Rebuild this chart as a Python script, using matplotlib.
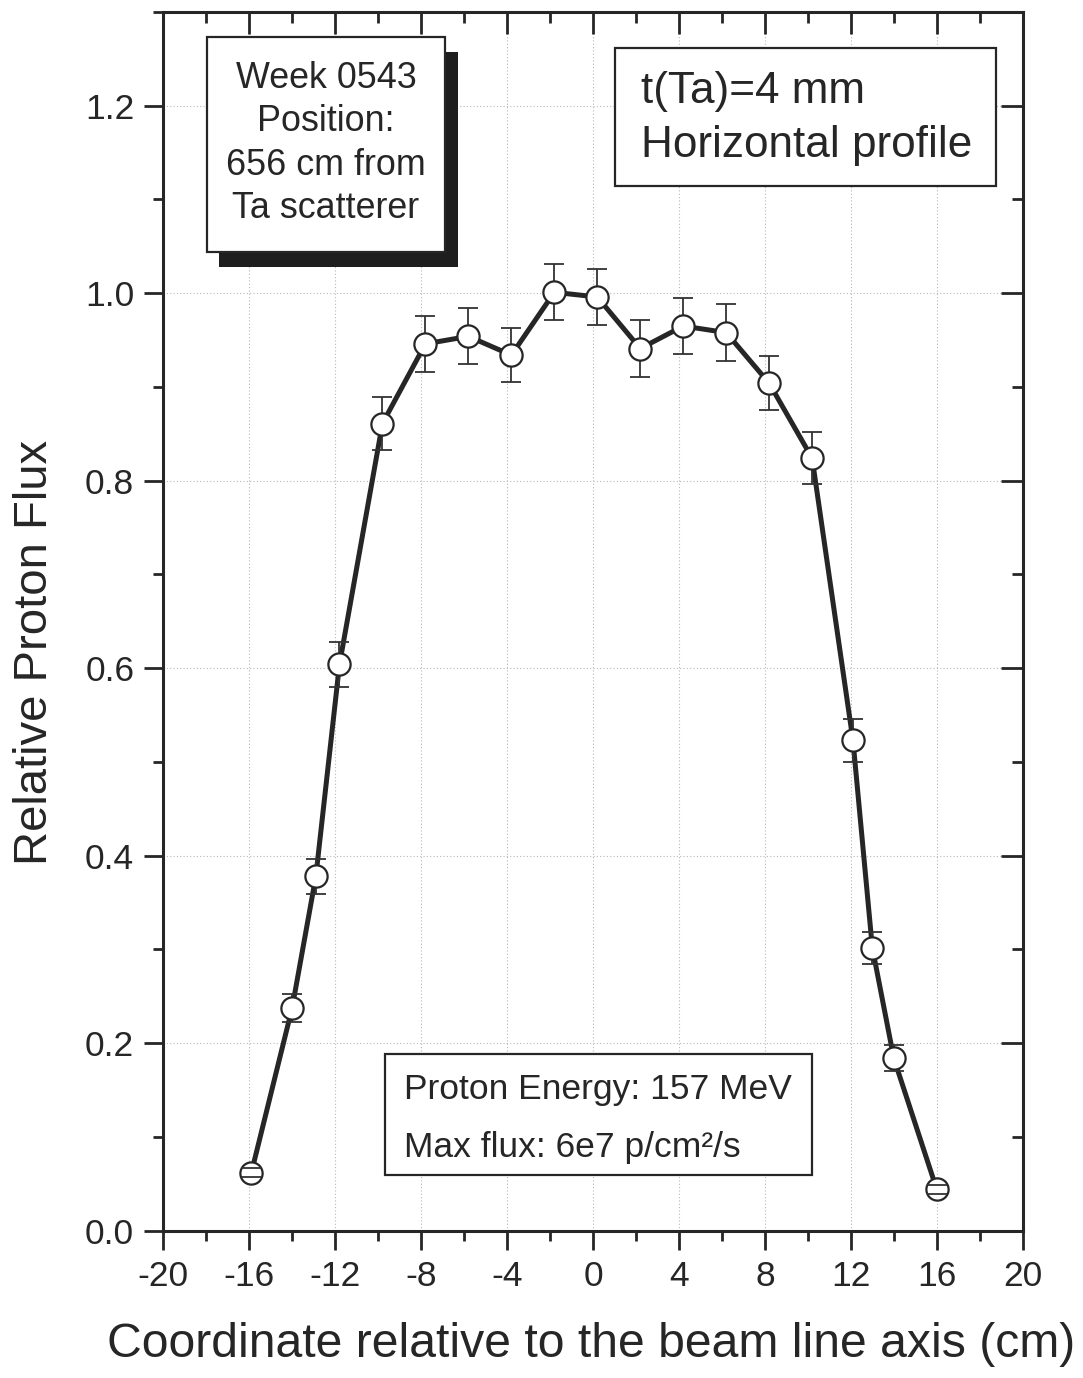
import numpy as np
import matplotlib
matplotlib.use("Agg")
import matplotlib.pyplot as plt
from matplotlib.patches import Rectangle
from matplotlib.ticker import MultipleLocator

plt.rcParams['font.family'] = ['Liberation Sans', 'DejaVu Sans']
plt.rcParams['axes.unicode_minus'] = False

# horizontal beam profile, week 0543
coord = [-15.9, -14.0, -12.9, -11.8, -9.8, -7.8, -5.8, -3.8, -1.8, 0.2,
         2.2, 4.2, 6.2, 8.2, 10.2, 12.1, 13.0, 14.0, 16.0]
flux = [0.062, 0.238, 0.378, 0.604, 0.861, 0.946, 0.954, 0.934, 1.001, 0.996,
        0.941, 0.965, 0.958, 0.904, 0.824, 0.523, 0.302, 0.184, 0.044]
flux_err = [0.005, 0.015, 0.019, 0.024, 0.028, 0.030, 0.030, 0.029, 0.030, 0.030,
            0.030, 0.030, 0.030, 0.029, 0.028, 0.023, 0.017, 0.014, 0.005]

W, H = 1083, 1378
ink = '#262626'
rect = [163.3 / W, 1 - 1230.7 / H, (1022.7 - 163.3) / W, (1230.7 - 12) / H]

fig = plt.figure(figsize=(W / 100, H / 100), dpi=100)
ax = fig.add_axes(rect)

ax.plot(coord, flux, color=ink, lw=3.6, zorder=2)
eb = ax.errorbar(coord, flux, yerr=flux_err, fmt='none', ecolor='#333333',
                 elinewidth=1.3, capsize=7, capthick=1.3, zorder=2)
ax.plot(coord, flux, 'o', ms=16, mfc='white', mec=ink, mew=1.6, zorder=3)
for cap in eb[1]:
    cap.set_zorder(4)

yt = np.arange(0, 1.21, 0.2)
# second, frameless axes on top carries the inward ticks of the top and right spines
ax2 = fig.add_axes(rect, frameon=False)
for a in (ax, ax2):
    a.set_xlim(-20, 20)
    a.set_ylim(0, 1.3)
    a.xaxis.set_major_locator(MultipleLocator(4))
    a.xaxis.set_minor_locator(MultipleLocator(2))
    a.yaxis.set_minor_locator(MultipleLocator(0.1))
    a.set_yticks(yt)
    a.set_yticklabels([f'{v:.1f}' for v in yt])

ax.grid(True, which='major', color='#b8b8b8', lw=0.8, linestyle=(0, (1, 2)))
ax.set_axisbelow(True)

for s in ax.spines.values():
    s.set_linewidth(2.2)
    s.set_color(ink)

ax.tick_params(which='both', direction='out', color=ink, width=2.0,
               top=False, right=False, labelsize=25.5, labelcolor=ink)
ax.tick_params(which='major', length=14)
ax.tick_params(which='minor', length=7)
ax.tick_params(axis='x', pad=7)
ax.tick_params(axis='y', pad=7)

ax2.tick_params(which='both', direction='in', color=ink, width=2.0,
                bottom=False, left=False, top=True, right=True,
                labelbottom=False, labelleft=False, labeltop=False, labelright=False)
ax2.tick_params(which='major', length=16)
ax2.tick_params(which='minor', length=8)

fig.text(591 / W, 1 - 1357 / H, 'Coordinate relative to the beam line axis (cm)',
         ha='center', va='baseline', fontsize=34.7, color=ink)
fig.text(47 / W, 1 - 652 / H, 'Relative Proton Flux', rotation=90,
         rotation_mode='anchor', ha='center', va='baseline', fontsize=34, color=ink)


def px_rect(x0, y0, x1, y1, **kw):
    r = Rectangle((x0 / W, 1 - y1 / H), (x1 - x0) / W, (y1 - y0) / H,
                  transform=fig.transFigure, **kw)
    fig.add_artist(r)


# run info box with drop shadow
px_rect(219, 51.7, 458.3, 266.7, facecolor='#1e1e1e', edgecolor='none', zorder=5)
px_rect(206.7, 36.7, 445, 251.7, facecolor='white', edgecolor=ink, lw=1.6, zorder=6)
for txt, yb in zip(['Week 0543', 'Position:', '656 cm from', 'Ta scatterer'],
                   [88, 131, 175, 218]):
    fig.text(326 / W, 1 - yb / H, txt, ha='center', va='baseline',
             fontsize=25.8, color=ink, zorder=7)

# target box
px_rect(615, 48.3, 995.7, 185.7, facecolor='white', edgecolor=ink, lw=1.6, zorder=6)
for txt, yb in zip(['t(Ta)=4 mm', 'Horizontal profile'], [103.3, 156.7]):
    fig.text(641 / W, 1 - yb / H, txt, ha='left', va='baseline',
             fontsize=31.8, color=ink, zorder=7)

# beam box
px_rect(385, 1054, 811.7, 1175, facecolor='white', edgecolor=ink, lw=1.6, zorder=6)
for txt, yb in zip(['Proton Energy: 157 MeV', 'Max flux: 6e7 p/cm\u00b2/s'], [1099.3, 1156.7]):
    fig.text(404 / W, 1 - yb / H, txt, ha='left', va='baseline',
             fontsize=25.5, color=ink, zorder=7)

fig.savefig('out.png', dpi=100, facecolor='white')
